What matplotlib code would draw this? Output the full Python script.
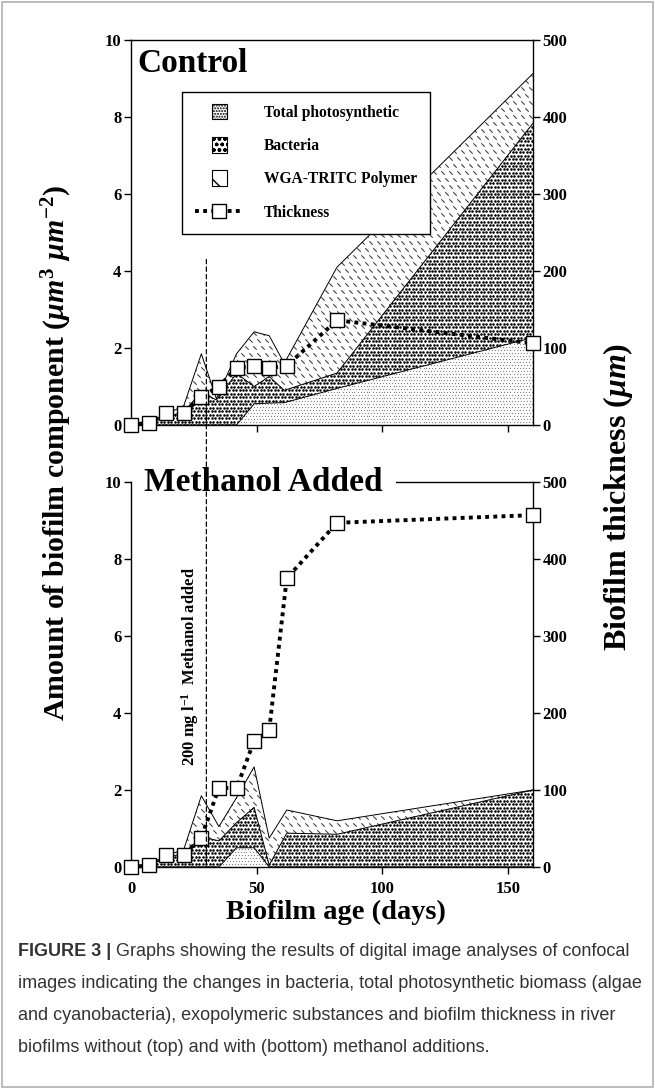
import numpy as np
import matplotlib
matplotlib.use("Agg")
import matplotlib.pyplot as plt
from matplotlib.collections import LineCollection
from matplotlib.patches import Rectangle, ConnectionPatch
from matplotlib.lines import Line2D
from matplotlib.legend_handler import HandlerPatch

# ---------------- data ----------------
# Control panel: component amounts (um3 um-2), stacked
days_ctrl = [0, 7, 14, 21, 28, 34, 42, 49, 55, 61, 82, 160]
photo_ctrl = [0, 0, 0, 0, 0, 0, 0, 0.55, 0.57, 0.58, 0.95, 2.27]
bact_ctrl = [0, 0.05, 0.20, 0.35, 0.85, 0.65, 1.34, 0.45, 0.69, 0.32, 0.40, 5.57]
poly_ctrl = [0, 0.02, 0.08, 0.15, 1.00, 0.03, 0.51, 1.42, 1.06, 0.70, 2.75, 1.29]

# Methanol panel
days_meth = [0, 7, 14, 21, 28, 35, 42, 49, 55, 62, 82, 160]
photo_meth = [0, 0, 0, 0, 0, 0, 0.50, 0.50, 0, 0, 0, 0]
bact_meth = [0, 0.04, 0.25, 0.35, 0.78, 0.68, 0.65, 1.05, 0.05, 0.88, 0.85, 2.00]
poly_meth = [0, 0.01, 0.05, 0.10, 1.07, 0.37, 0.65, 1.05, 0.70, 0.60, 0.35, 0.00]

# Biofilm thickness (um)
days_thick = [0, 7, 14, 21, 28, 35, 42, 49, 55, 62, 82, 160]
thick_ctrl = [0, 3, 15, 15, 37, 50, 74, 77, 74, 77, 136, 106]
thick_meth = [0, 2, 16, 16, 38, 103, 102, 164, 178, 375, 447, 457]

x_ticks = [0, 50, 100, 150]
y_ticks_left = [0, 2, 4, 6, 8, 10]
y_ticks_right = [0, 100, 200, 300, 400, 500]
legend_labels = ["Total photosynthetic", "Bacteria", "WGA-TRITC Polymer", "Thickness"]
panel_titles = ["Control", "Methanol Added"]
methanol_day = 30
methanol_note = r"200 mg l$^{-1}$  Methanol added"
ylabel_left = r"Amount of biofilm component ($\mathit{\mu m}^3\ \mathit{\mu m}^{-2}$)"
ylabel_right = r"Biofilm thickness ($\mathit{\mu m}$)"
xlabel = "Biofilm age (days)"
caption_head = "FIGURE 3 |"
caption_lines = [
    " Graphs showing the results of digital image analyses of confocal",
    "images indicating the changes in bacteria, total photosynthetic biomass (algae",
    "and cyanobacteria), exopolymeric substances and biofilm thickness in river",
    "biofilms without (top) and with (bottom) methanol additions.",
]

# ---------------- style ----------------
plt.rcParams.update({
    "font.family": ["Liberation Serif", "DejaVu Serif"],
    "font.weight": "bold",
    "mathtext.fontset": "custom",
    "mathtext.rm": "Liberation Serif:bold",
    "mathtext.it": "Liberation Serif:italic:bold",
    "mathtext.bf": "Liberation Serif:bold",
    "axes.linewidth": 1.0,
})

W, H = 655, 1089
fig = plt.figure(figsize=(W / 100, H / 100), dpi=100)
ax_top = fig.add_axes([131 / W, 1 - 425 / H, 402 / W, 385 / H])
ax_bot = fig.add_axes([131 / W, 1 - 867 / H, 402 / W, 385 / H])


def axes_px(ax):
    bb = ax.get_position()
    return bb.width * W, bb.height * H


def add_dots(ax, poly, spacing, size, color):
    wpx, hpx = axes_px(ax)
    xs = np.arange(0, wpx + spacing, spacing)
    ys = np.arange(0, hpx + spacing, spacing)
    X, Y = np.meshgrid(xs, ys)
    X = X + (np.arange(len(ys))[:, None] % 2) * spacing / 2
    sc = ax.scatter(X.ravel() / wpx, Y.ravel() / hpx, s=size, c=color,
                    marker="o", linewidths=0, transform=ax.transAxes, zorder=1.5)
    sc.set_clip_path(poly.get_paths()[0], ax.transData)


def add_dashes(ax, poly, sx=8.0, sy=7.0, half=1.7, color="#3a3a3a"):
    wpx, hpx = axes_px(ax)
    segs = []
    for j, y in enumerate(np.arange(0, hpx + sy, sy)):
        off = (j % 2) * sx / 2
        for x in np.arange(0, wpx + sx, sx):
            cx = x + off
            segs.append([((cx - half) / wpx, (y + half) / hpx),
                         ((cx + half) / wpx, (y - half) / hpx)])
    lc = LineCollection(segs, colors=color, linewidths=0.75,
                        transform=ax.transAxes, zorder=1.5)
    ax.add_collection(lc, autolim=False)
    lc.set_clip_path(poly.get_paths()[0], ax.transData)


line_style = dict(color="black", lw=2.8, linestyle=(0, (1.0, 1.1)),
                  marker="s", ms=10, mfc="white", mec="black", mew=1.0)


def panel(ax, days, photo, bact, poly, thick, show_xlabels):
    ax.set_xlim(0, 160)
    ax.set_ylim(0, 10)
    polys = ax.stackplot(days, photo, bact, poly, colors=["white"] * 3, linewidth=0)
    add_dots(ax, polys[0], 3.0, 0.8, "#808080")
    add_dots(ax, polys[1], 3.5, 3.4, "black")
    add_dashes(ax, polys[2])
    cum = np.cumsum([photo, bact, poly], axis=0)
    for c in cum:
        ax.plot(days, c, color="black", lw=0.7, zorder=2)
    ax.set_xticks(x_ticks)
    ax.set_yticks(y_ticks_left)
    ax.tick_params(axis="both", direction="out", length=5, width=1,
                   labelsize=12, pad=2)
    ax.tick_params(axis="x", pad=5)
    if not show_xlabels:
        ax.tick_params(axis="x", labelbottom=False)
    ax.spines["right"].set_visible(False)
    ax.spines["left"].set_zorder(7)

    ax2 = ax.twinx()
    ax2.set_ylim(0, 500)
    ax2.set_yticks(y_ticks_right)
    ax2.tick_params(axis="y", direction="out", length=5, width=1,
                    labelsize=12, pad=2)
    for s in ("top", "left", "bottom"):
        ax2.spines[s].set_visible(False)
    ax2.plot(days_thick, thick, zorder=3, clip_on=False, **line_style)
    return ax2


ax2_top = panel(ax_top, days_ctrl, photo_ctrl, bact_ctrl, poly_ctrl, thick_ctrl, False)
ax2_bot = panel(ax_bot, days_meth, photo_meth, bact_meth, poly_meth, thick_meth, True)

# titles
ax_top.text(0.017, 0.917, panel_titles[0], transform=ax_top.transAxes,
            fontsize=24, ha="left", va="baseline")
ax_bot.text(0.033, 1.0, panel_titles[1], transform=ax_bot.transAxes,
            fontsize=24, ha="left", va="center", zorder=6, clip_on=False,
            bbox=dict(facecolor="white", edgecolor="none", pad=9))


# legend
def square_patch(legend, orig_handle, xdescent, ydescent, width, height, fontsize):
    s = 11
    return Rectangle((-xdescent + width / 2 - s / 2, -ydescent + height / 2 - s / 2), s, s)


h_photo = Rectangle((0, 0), 1, 1, facecolor="white", edgecolor="black", hatch="......", lw=0.8)
h_bact = Rectangle((0, 0), 1, 1, facecolor="white", edgecolor="black", hatch="ooo", lw=0.8)
h_poly = Rectangle((0, 0), 1, 1, facecolor="white", edgecolor="black", hatch="\\", lw=0.8)
h_line = Line2D([], [], **line_style)
hp = HandlerPatch(patch_func=square_patch)
leg = ax2_top.legend([h_photo, h_bact, h_poly, h_line], legend_labels,
                     handler_map={Rectangle: hp},
                     loc="upper left", bbox_to_anchor=(0.127, 0.865),
                     bbox_transform=ax_top.transAxes, borderaxespad=0,
                     fontsize=11.2, frameon=True, fancybox=False, framealpha=1,
                     edgecolor="black", handlelength=3.1, handletextpad=1.3,
                     labelspacing=1.1, borderpad=0.85)
leg.get_frame().set_linewidth(1.0)
leg.set_zorder(10)

# methanol addition marker line spanning both panels
con = ConnectionPatch(xyA=(methanol_day, 4.3), coordsA=ax_top.transData,
                      xyB=(methanol_day, 0), coordsB=ax_bot.transData,
                      linestyle=(0, (3.5, 2.5)), lw=0.9, color="black")
fig.add_artist(con)
ax_bot.text(23.4, 5.2, methanol_note, rotation=90, ha="center", va="center",
            fontsize=12, zorder=6)

# axis labels
fig.text(57 / W, 1 - 453 / H, ylabel_left, rotation=90, ha="center", va="center", fontsize=21.5)
fig.text(618 / W, 1 - 497 / H, ylabel_right, rotation=90, ha="center", va="center", fontsize=23)
fig.text(336 / W, 1 - 912 / H, xlabel, ha="center", va="center", fontsize=20.5)

# caption
cap_font = dict(family=["Liberation Sans"], fontsize=13, color="#333333")
t_head = fig.text(18 / W, 1 - 952 / H, caption_head, ha="left", va="center",
                  fontweight="bold", **cap_font)
fig.add_artist(plt.Annotation(caption_lines[0], xy=(1, 0.5), xycoords=t_head,
                              ha="left", va="center", fontweight="normal", **cap_font))
for i, line in enumerate(caption_lines[1:], start=1):
    fig.text(18 / W, 1 - (952 + 32 * i) / H, line, ha="left", va="center",
             fontweight="normal", **cap_font)

# figure frame
fig.add_artist(Rectangle((0.003, 0.002), 0.994, 0.996, transform=fig.transFigure,
                         fill=False, edgecolor="#b0b0b0", lw=1.2))

fig.savefig("out.png", dpi=100)
